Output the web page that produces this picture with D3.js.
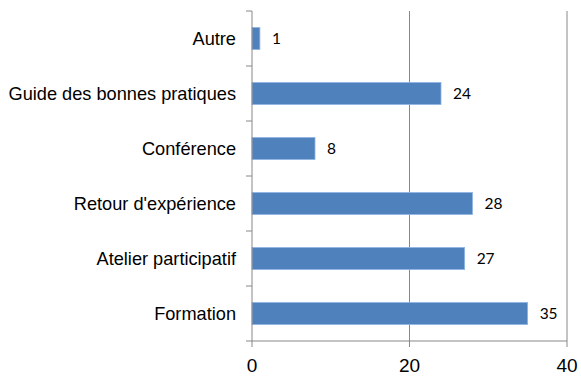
<!DOCTYPE html>
<html>
<head>
<meta charset="utf-8">
<script src="https://cdn.jsdelivr.net/npm/d3@7"></script>
<style>
  body { margin: 0; background: #fff; }
  svg { display: block; }
</style>
</head>
<body>
<div id="chart"></div>
<script>
// chart values (top to bottom)
var categories = ["Autre", "Guide des bonnes pratiques", "Conférence", "Retour d'expérience", "Atelier participatif", "Formation"];
var values = [1, 24, 8, 28, 27, 35];
var xTicks = [0, 20, 40];

var width = 581, height = 378;
var margin = {top: 11, right: 14, bottom: 37, left: 252};

var svg = d3.select("#chart").append("svg")
  .attr("width", width).attr("height", height);

var x = d3.scaleLinear().domain([0, 40]).range([margin.left, width - margin.right]);
var y = d3.scaleBand().domain(categories)
  .range([margin.top, height - margin.bottom])
  .paddingInner(0.6).paddingOuter(0.3);

// vertical grid lines
svg.append("g").selectAll("line")
  .data(xTicks.filter(function(d){ return d > 0; }))
  .enter().append("line")
  .attr("x1", function(d){ return x(d); }).attr("x2", function(d){ return x(d); })
  .attr("y1", margin.top).attr("y2", height - margin.bottom)
  .attr("stroke", "#888").attr("stroke-width", 1);

// bars
svg.append("g").selectAll("rect")
  .data(values).enter().append("rect")
  .attr("x", x(0))
  .attr("y", function(d, i){ return y(categories[i]); })
  .attr("width", function(d){ return x(d) - x(0); })
  .attr("height", y.bandwidth())
  .attr("fill", "#4F81BD")
  .attr("stroke", "#8EB4E3").attr("stroke-width", 0.8);

// value labels
svg.append("g").selectAll("text")
  .data(values).enter().append("text")
  .attr("x", function(d){ return x(d) + 12; })
  .attr("y", function(d, i){ return y(categories[i]) + y.bandwidth() / 2; })
  .attr("dy", "0.35em")
  .attr("font-family", "Lato, 'Open Sans', sans-serif")
  .attr("font-size", 15.5).attr("fill", "#000")
  .text(function(d){ return d; });

// y axis: line plus ticks at band boundaries
var step = y.step();
var bounds = d3.range(categories.length + 1).map(function(i){ return margin.top + i * step; });
var yAxis = svg.append("g");
yAxis.append("line")
  .attr("x1", x(0)).attr("x2", x(0))
  .attr("y1", margin.top).attr("y2", height - margin.bottom)
  .attr("stroke", "#888");
yAxis.selectAll("line.tick").data(bounds).enter().append("line")
  .attr("class", "tick")
  .attr("x1", x(0) - 6).attr("x2", x(0))
  .attr("y1", function(d){ return d; }).attr("y2", function(d){ return d; })
  .attr("stroke", "#888");
yAxis.selectAll("text").data(categories).enter().append("text")
  .attr("x", x(0) - 16)
  .attr("y", function(d){ return y(d) + y.bandwidth() / 2; })
  .attr("dy", "0.35em")
  .attr("text-anchor", "end")
  .attr("font-family", "'Liberation Sans', Arial, sans-serif")
  .attr("font-size", 18.2).attr("fill", "#000")
  .text(function(d){ return d; });

// x axis
var xAxis = svg.append("g");
xAxis.append("line")
  .attr("x1", x(0)).attr("x2", x(40))
  .attr("y1", height - margin.bottom).attr("y2", height - margin.bottom)
  .attr("stroke", "#888");
xAxis.selectAll("line.tick").data(xTicks).enter().append("line")
  .attr("class", "tick")
  .attr("x1", function(d){ return x(d); }).attr("x2", function(d){ return x(d); })
  .attr("y1", height - margin.bottom).attr("y2", height - margin.bottom + 6)
  .attr("stroke", "#888");
xAxis.selectAll("text").data(xTicks).enter().append("text")
  .attr("x", function(d){ return x(d); })
  .attr("y", 372)
  .attr("text-anchor", "middle")
  .attr("font-family", "'Liberation Sans', Arial, sans-serif")
  .attr("font-size", 19).attr("fill", "#000")
  .text(function(d){ return d; });
</script>
</body>
</html>
